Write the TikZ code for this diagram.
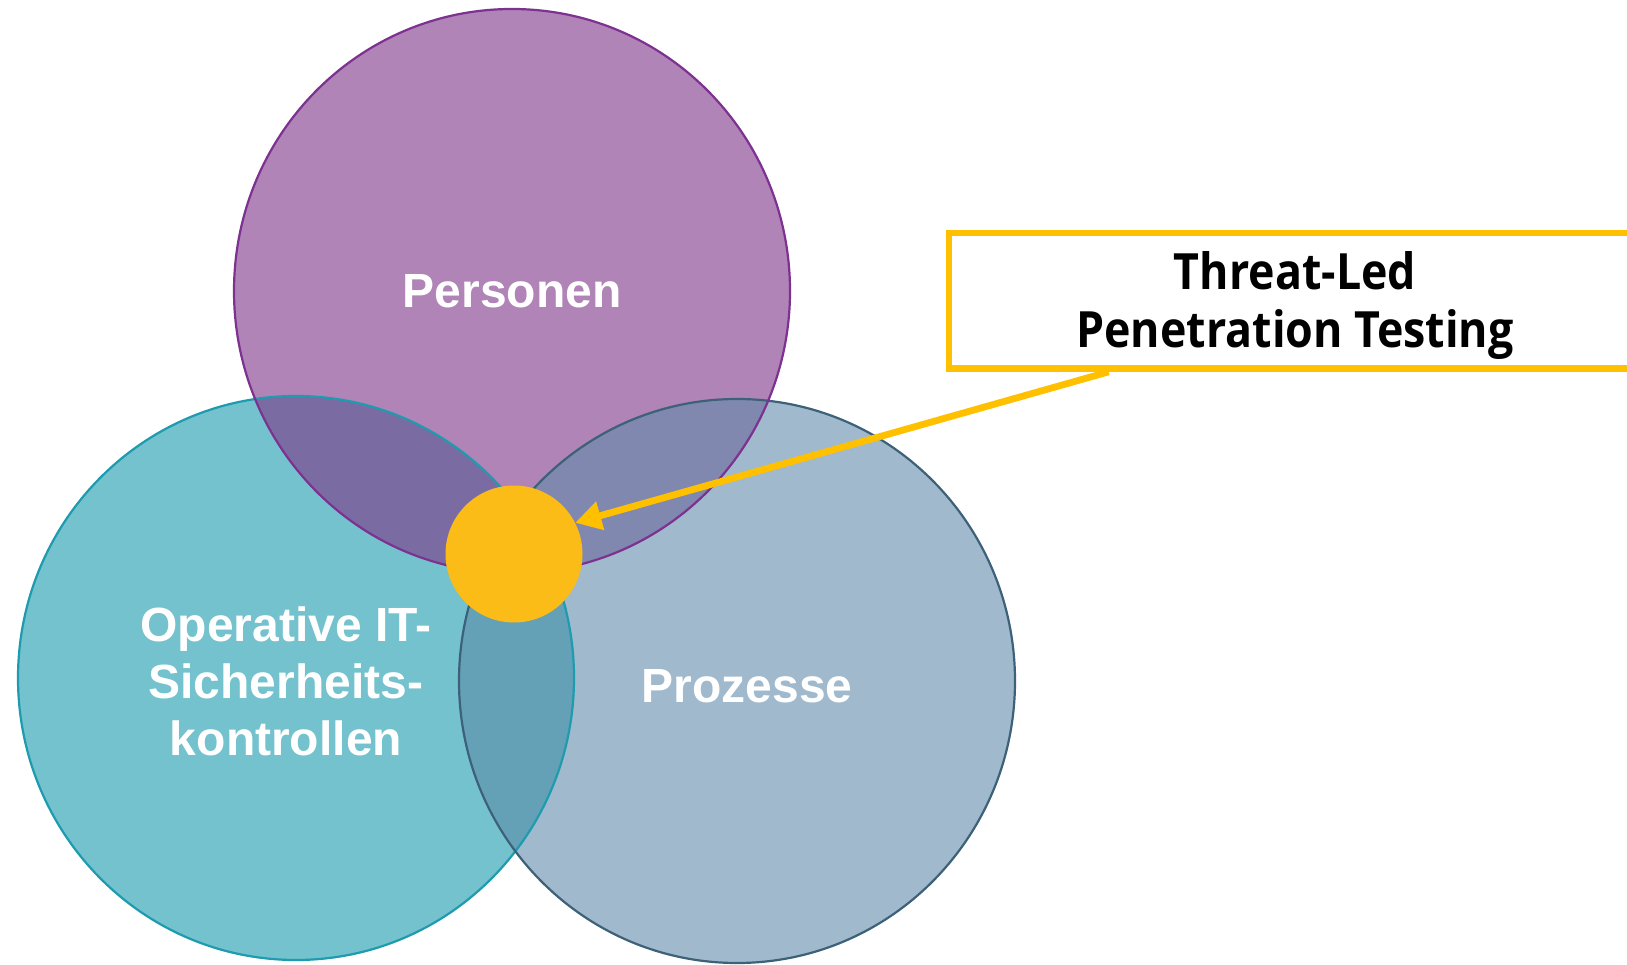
\documentclass[tikz,border=0pt]{standalone}
\usepackage{fontspec}
\setmainfont{Liberation Sans}
\newfontfamily\boxfont{Open Sans}
\usetikzlibrary{arrows.meta}
\definecolor{pfill}{HTML}{B084B6}
\definecolor{pline}{HTML}{7D3190}
\definecolor{lfill}{HTML}{73C2CE}
\definecolor{lline}{HTML}{1E9BAE}
\definecolor{rfill}{HTML}{A0B9CC}
\definecolor{rline}{HTML}{3D6178}
\definecolor{plfill}{HTML}{7A6CA3}
\definecolor{prfill}{HTML}{8088AF}
\definecolor{lrfill}{HTML}{65A1B6}
\definecolor{sun}{HTML}{FBBC18}
\definecolor{boxyellow}{HTML}{FFC000}
\tikzset{
  lbl/.style={anchor=base, text=white, inner sep=0pt, font=\bfseries\fontsize{48}{57}\selectfont},
  boxlbl/.style={anchor=base, text=black, inner sep=0pt, font=\boxfont\bfseries\fontsize{50}{57}\selectfont},
  ring/.style={line width=2.2pt},
  conn/.style={draw=boxyellow, line width=6.8pt, -{Triangle[length=26pt,width=28pt]}}
}
\begin{document}
\begin{tikzpicture}[x=1pt,y=-1pt]
\useasboundingbox (0,0) rectangle (1627,965);
% fills
\fill[lfill] (296,678) ellipse [x radius=278, y radius=282];
\fill[rfill] (737,681) ellipse [x radius=278, y radius=282];
\fill[pfill] (512,291) ellipse [x radius=278, y radius=282];
\begin{scope}
  \clip (296,678) ellipse [x radius=278, y radius=282];
  \fill[lrfill] (737,681) ellipse [x radius=278, y radius=282];
  \fill[plfill] (512,291) ellipse [x radius=278, y radius=282];
\end{scope}
\begin{scope}
  \clip (737,681) ellipse [x radius=278, y radius=282];
  \fill[prfill] (512,291) ellipse [x radius=278, y radius=282];
\end{scope}
% borders
\draw[ring, draw=lline] (296,678) ellipse [x radius=278, y radius=282];
\draw[ring, draw=rline] (737,681) ellipse [x radius=278, y radius=282];
\draw[ring, draw=pline] (512,291) ellipse [x radius=278, y radius=282];
% labels
\node[lbl] (pers) at (512,308) {Personen};
\node[lbl] (op1) at (286,641) {Operative IT-};
\node[lbl] (op2) at (286,698) {Sicherheits-};
\node[lbl] (op3) at (286,755) {kontrollen};
\node[lbl] (proz) at (747,702) {Prozesse};
% centre
\node[circle, fill=sun, inner sep=0pt, minimum size=137pt] (tlpt) at (514,554) {};
% box
\node[draw=boxyellow, fill=white, line width=6.7pt, minimum width=691pt, minimum height=135.5pt, inner sep=0pt] (box) at (1294.5,300.75) {};
\node[boxlbl] (t1) at (1295,290) {\scalebox{0.895}[1]{Threat-Led}};
\node[boxlbl] (t2) at (1295,347.5) {\scalebox{0.895}[1]{Penetration Testing}};
% arrow
\draw[conn] ([xshift=163pt]box.south west) -- (tlpt.27);
\end{tikzpicture}
\end{document}
